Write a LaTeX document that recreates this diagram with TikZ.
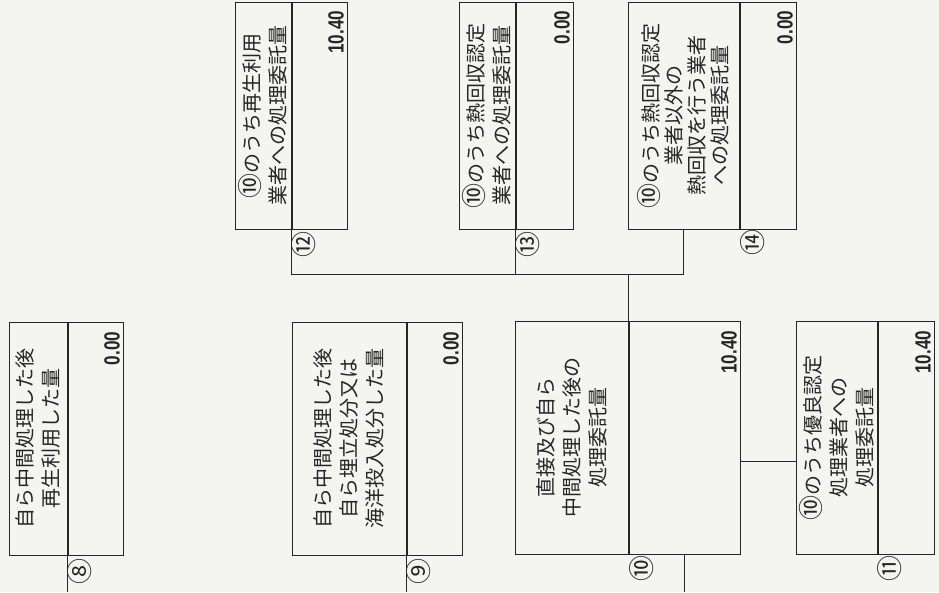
\documentclass[tikz,border=0pt]{standalone}
\usepackage{fontspec}
\newfontfamily\jpfont{Noto Sans CJK JP}
\newfontfamily\numfont[FakeStretch=0.78]{Liberation Sans}
\usetikzlibrary{calc}
\definecolor{paper}{RGB}{244,244,241}
\definecolor{ink}{RGB}{38,38,38}
\newcommand{\ringnum}[1]{{\fontsize{25}{26}\selectfont #1}}

\begin{document}
\begin{tikzpicture}[x=1pt,y=-1pt,
	cell/.style={draw=ink, line width=1pt, inner sep=0pt},
	wire/.style={draw=ink, line width=1pt},
	txt/.style={rotate=90, align=center, inner sep=0pt, text=ink, font=\jpfont\fontsize{20}{26}\selectfont},
	num/.style={rotate=90, anchor=base east, inner sep=0pt, text=ink, font=\numfont\bfseries\fontsize{22}{22}\selectfont},
	lbl/.style={rotate=90, inner sep=0pt, text=ink, font=\jpfont\fontsize{26}{26}\selectfont}]
				\fill[paper] (0,0) rectangle (939,592);
				\coordinate (bot) at (0,592);
				\coordinate (bus) at (0,274);
				
				% lower row
				\node[cell, minimum width=58pt, minimum height=233pt] (b8t) at (38,438.5) {};
				\node[cell, minimum width=55pt, minimum height=233pt, anchor=west] (b8v) at (b8t.east) {};
				\node[cell, minimum width=114pt, minimum height=233pt] (b9t) at (349,438.5) {};
				\node[cell, minimum width=55pt, minimum height=233pt, anchor=west] (b9v) at (b9t.east) {};
				\node[cell, minimum width=113pt, minimum height=233pt] (b10t) at (571.5,437.5) {};
				\node[cell, minimum width=111pt, minimum height=233pt, anchor=west] (b10v) at (b10t.east) {};
				\node[cell, minimum width=81pt, minimum height=233pt] (b11t) at (836.5,437.5) {};
				\node[cell, minimum width=56pt, minimum height=233pt, anchor=west] (b11v) at (b11t.east) {};
				
				% upper row
				\node[cell, minimum width=56pt, minimum height=227pt] (b12t) at (263,115.5) {};
				\node[cell, minimum width=55pt, minimum height=227pt, anchor=west] (b12v) at (b12t.east) {};
				\node[cell, minimum width=56pt, minimum height=227pt] (b13t) at (487,115.5) {};
				\node[cell, minimum width=57pt, minimum height=227pt, anchor=west] (b13v) at (b13t.east) {};
				\node[cell, minimum width=111pt, minimum height=227pt] (b14t) at (683.5,115.5) {};
				\node[cell, minimum width=56pt, minimum height=227pt, anchor=west] (b14v) at (b14t.east) {};
				
				% texts
				\node[txt] (t8) at (b8t) {自ら中間処理した後\\再生利用した量};
				\node[txt] (t9) at (b9t) {自ら中間処理した後\\自ら埋立処分又は\\海洋投入処分した量};
				\node[txt] (t10) at (b10t) {直接及び自ら\\中間処理した後の\\処理委託量};
				\node[txt] (t11) at (b11t) {\ringnum{⑩}のうち優良認定\\処理業者への\\処理委託量};
				\node[txt] (t12) at (b12t) {\ringnum{⑩}のうち再生利用\\業者への処理委託量};
				\node[txt] (t13) at (b13t) {\ringnum{⑩}のうち熱回収認定\\業者への処理委託量};
				\node[txt, font=\jpfont\fontsize{20}{23}\selectfont] (t14) at (b14t) {\ringnum{⑩}のうち熱回収認定\\業者以外の\\熱回収を行う業者\\への処理委託量};
				
				% values
				\node[num] (v8) at ($(b8v.north east)+(-4,10)$) {0.00};
				\node[num] (v9) at ($(b9v.north east)+(-4,10)$) {0.00};
				\node[num] (v10) at ($(b10v.north east)+(-4,10)$) {10.40};
				\node[num] (v11) at ($(b11v.north east)+(-4,10)$) {10.40};
				\node[num] (v12) at ($(b12v.north east)+(-4,9)$) {10.40};
				\node[num] (v13) at ($(b13v.north east)+(-4,9)$) {0.00};
				\node[num] (v14) at ($(b14v.north east)+(-4,9)$) {0.00};
				
				% numbers under the boxes
				\node[lbl] (n8) at ($(b8t.south east)+(12,16)$) {⑧};
				\node[lbl] (n9) at ($(b9t.south east)+(12,16)$) {⑨};
				\node[lbl] (n10) at ($(b10t.south east)+(13,14)$) {⑩};
				\node[lbl] (n11) at ($(b11t.south east)+(12,14)$) {⑪};
				\node[lbl] (n12) at ($(b12t.south east)+(12,15)$) {⑫};
				\node[lbl] (n13) at ($(b13t.south east)+(12,15)$) {⑬};
				\node[lbl] (n14) at ($(b14t.south east)+(13,13)$) {⑭};
				
				% connectors
				\coordinate (j11) at ($(b10v.south east)+(0,-93)$);
				\draw[wire] (b8t.south east) -- (b8t.south east |- bot);
				\draw[wire] (b9t.south east) -- (b9t.south east |- bot);
				\draw[wire] (b10v.south) -- (b10v.south |- bot);
				\draw[wire] (j11) -- (j11 -| b11t.west);
				\draw[wire] (b12t.south east) |- (b14t.south |- bus) -- (b14t.south);
				\draw[wire] (b13t.south east) -- (b13t.south east |- bus);
				\draw[wire] (b10t.north east) -- (b10t.north east |- bus);
			\end{tikzpicture}
\end{document}
